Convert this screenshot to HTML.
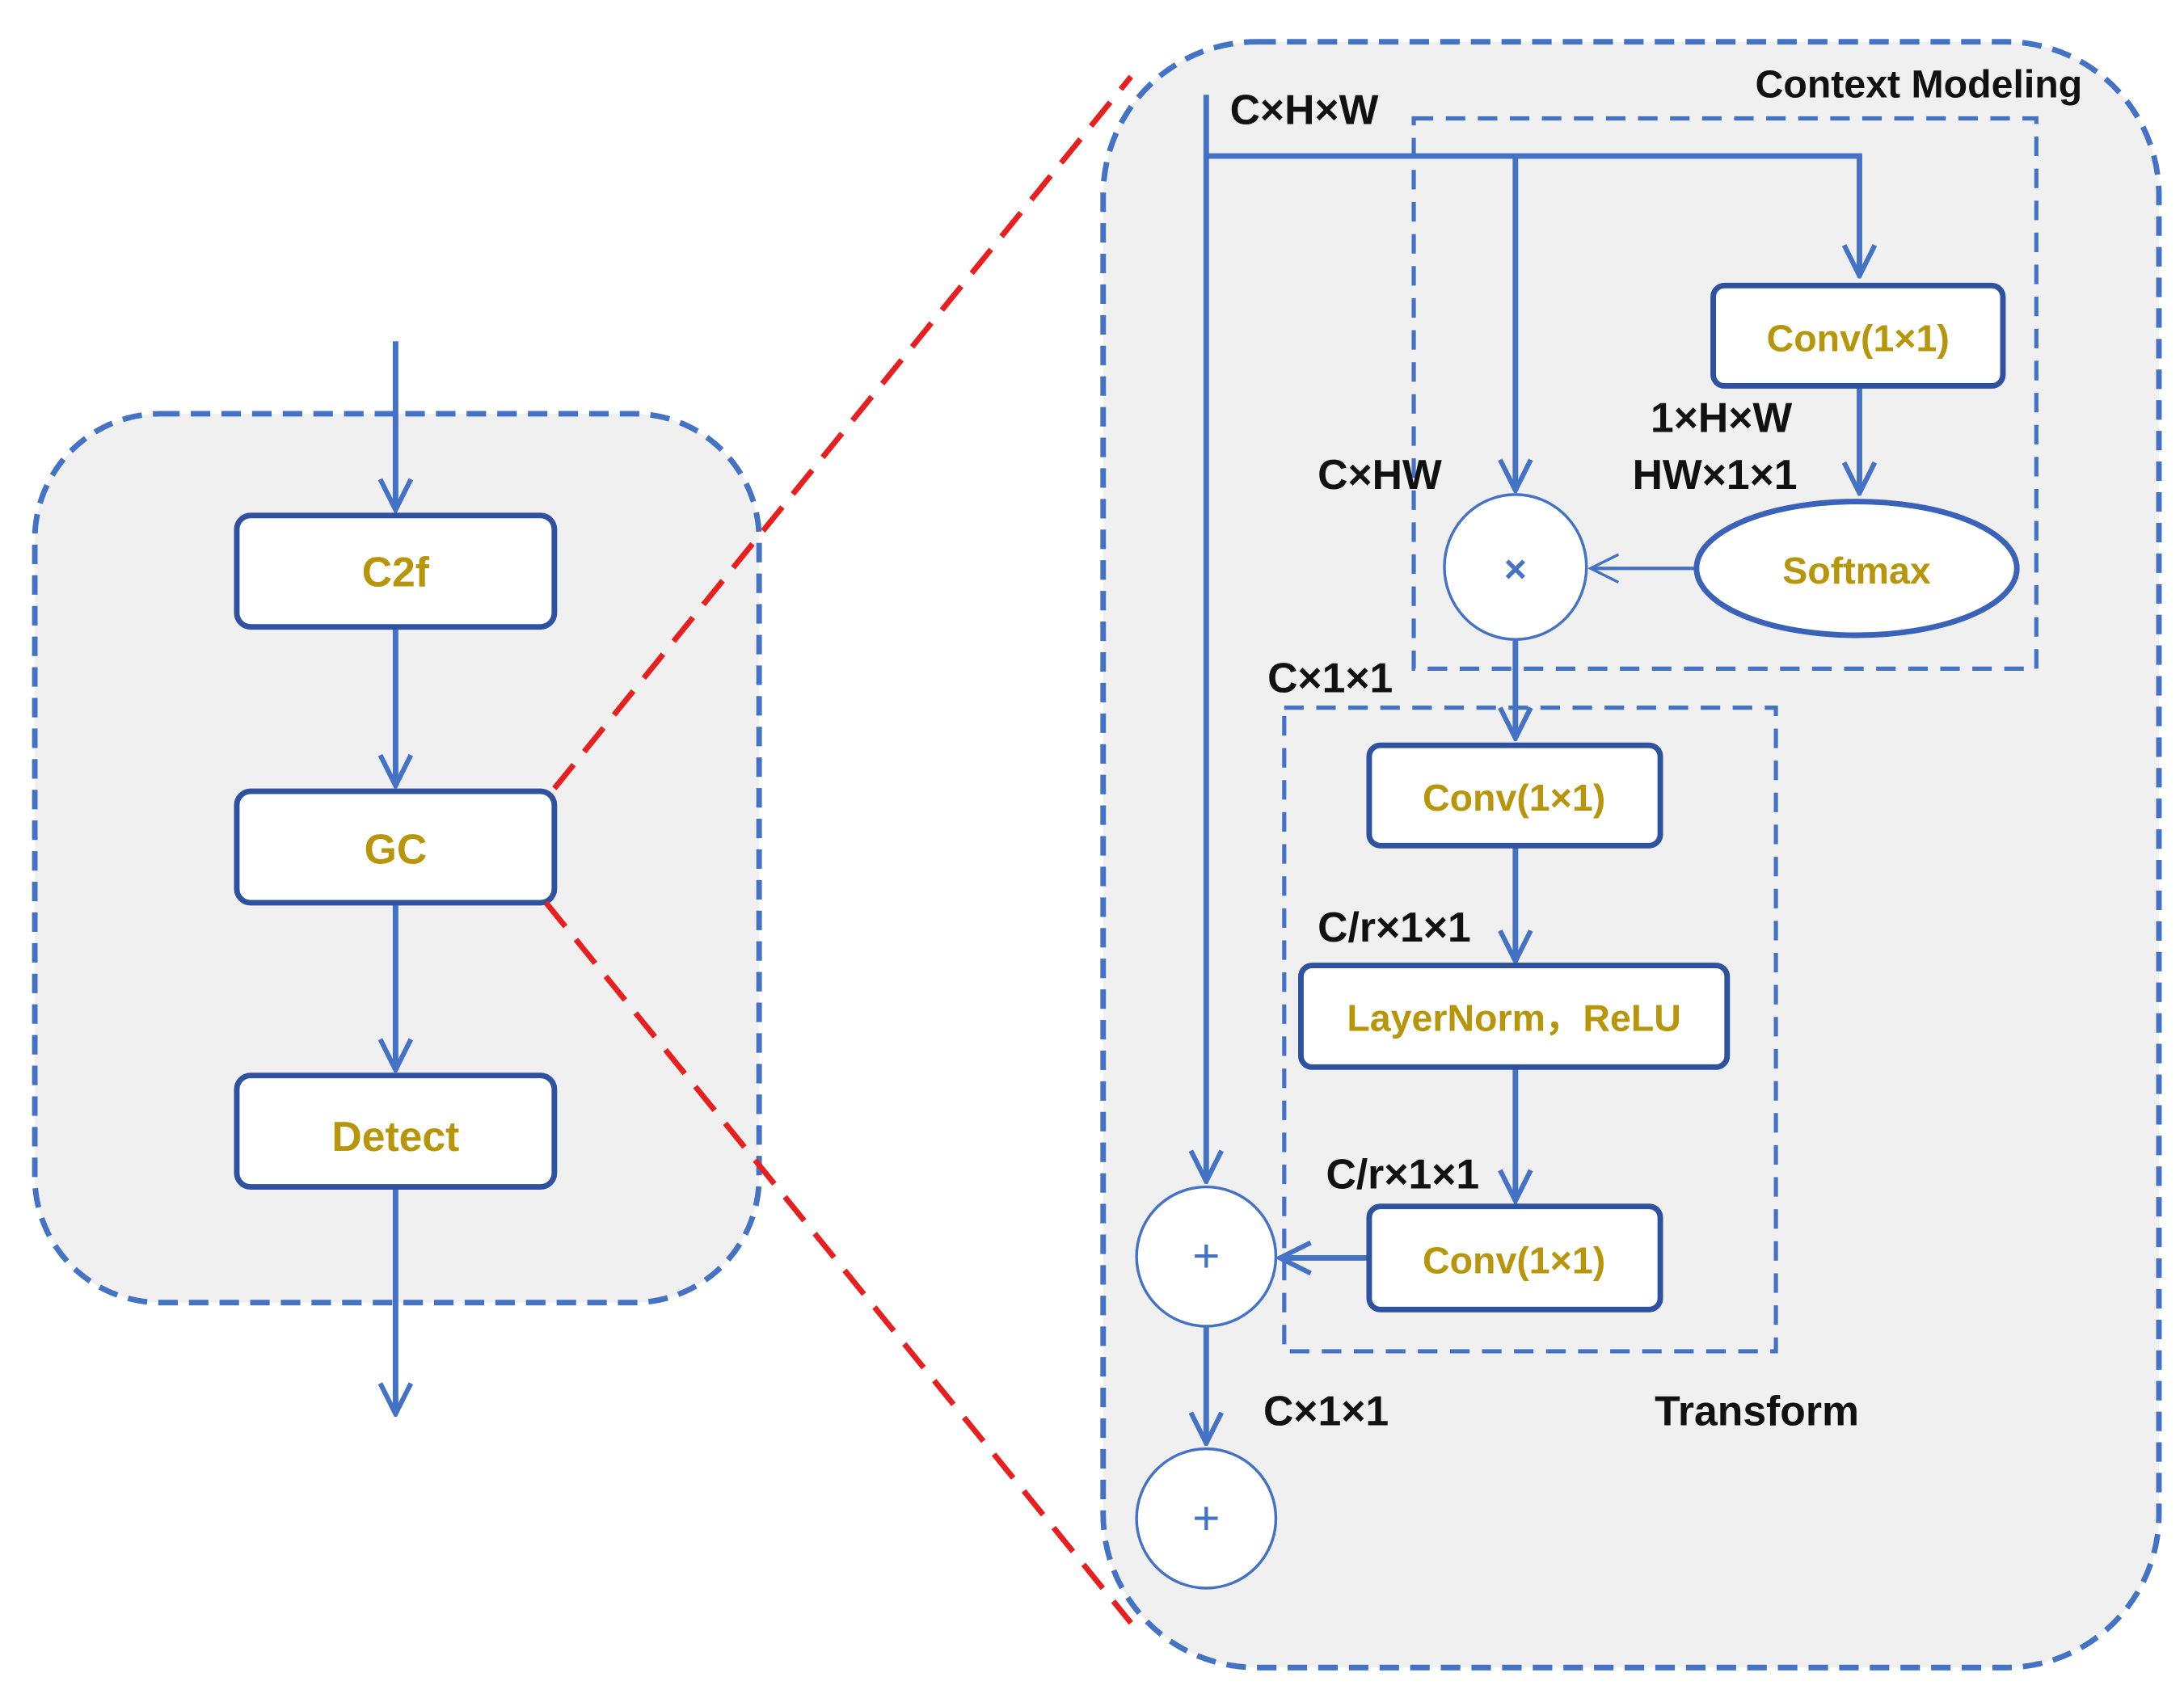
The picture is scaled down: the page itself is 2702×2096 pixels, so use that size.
<!DOCTYPE html>
<html><head><meta charset="utf-8"><style>html,body{margin:0;padding:0;background:#fff}svg{display:block}</style></head>
<body>
<svg width="2702" height="2096" viewBox="0 0 1568 1216" preserveAspectRatio="none" xmlns="http://www.w3.org/2000/svg">
<defs>
<marker id="b" markerWidth="26" markerHeight="26" refX="24" refY="13" orient="auto" markerUnits="userSpaceOnUse">
<path d="M2,2 L24,13 L2,24" fill="none" stroke="#4472c4" stroke-width="3.5"/></marker>
<marker id="c" markerWidth="24" markerHeight="24" refX="22" refY="12" orient="auto" markerUnits="userSpaceOnUse">
<path d="M2,2 L22,12 L2,22" fill="none" stroke="#4472c4" stroke-width="2"/></marker>
</defs>
<g font-family="Liberation Sans, sans-serif" font-weight="bold">
<rect x="25" y="297" width="520" height="638" rx="90" fill="#f0f0f0" stroke="#4472c4" stroke-width="4" stroke-dasharray="14 8"/>
<g stroke="#4472c4" stroke-width="4" fill="none">
<line x1="284" y1="245" x2="284" y2="366" marker-end="url(#b)"/>
<line x1="284" y1="450" x2="284" y2="564" marker-end="url(#b)"/>
<line x1="284" y1="648" x2="284" y2="768" marker-end="url(#b)"/>
<line x1="284" y1="852" x2="284" y2="1015" marker-end="url(#b)"/>
</g>
<g fill="#fff" stroke="#2f52a0" stroke-width="4">
<rect x="170" y="370" width="228" height="80" rx="10"/>
<rect x="170" y="568" width="228" height="80" rx="10"/>
<rect x="170" y="772" width="228" height="80" rx="10"/>
</g>
<g fill="#b8960c" font-size="30" text-anchor="middle">
<text x="284" y="421">C2f</text><text x="284" y="620">GC</text><text x="284" y="826">Detect</text>
</g>
<rect x="792" y="30" width="758" height="1167" rx="110" fill="#f0f0f0" stroke="#4472c4" stroke-width="4" stroke-dasharray="14 8"/>
<g stroke="#e81f1f" stroke-width="4" stroke-dasharray="22 12">
<line x1="398" y1="566" x2="812" y2="55"/>
<line x1="392" y1="648" x2="812" y2="1165"/>
</g>
<g fill="none" stroke="#4472c4" stroke-width="3" stroke-dasharray="14 9">
<rect x="1015" y="85" width="447" height="395"/>
<rect x="922" y="508" width="353" height="462"/>
</g>
<g stroke="#4472c4" stroke-width="4" fill="none">
<line x1="866" y1="68" x2="866" y2="848" marker-end="url(#b)"/>
<polyline points="866,112 1335,112 1335,198" marker-end="url(#b)"/>
<line x1="1088" y1="112" x2="1088" y2="352" marker-end="url(#b)"/>
<line x1="1335" y1="277" x2="1335" y2="354" marker-end="url(#b)"/>
<line x1="1088" y1="459" x2="1088" y2="530" marker-end="url(#b)"/>
<line x1="1088" y1="607" x2="1088" y2="690" marker-end="url(#b)"/>
<line x1="1088" y1="766" x2="1088" y2="862" marker-end="url(#b)"/>
<line x1="983" y1="903" x2="919" y2="903" marker-end="url(#b)"/>
<line x1="866" y1="952" x2="866" y2="1036" marker-end="url(#b)"/>
</g>
<line x1="1218" y1="408" x2="1142" y2="408" stroke="#4472c4" stroke-width="2.5" marker-end="url(#c)"/>
<g fill="#fff" stroke="#2f52a0" stroke-width="4">
<rect x="1230" y="205" width="208" height="72" rx="8"/>
<rect x="983" y="535" width="209" height="72" rx="8"/>
<rect x="934" y="693" width="306" height="73" rx="8"/>
<rect x="983" y="866" width="209" height="74" rx="8"/>
<ellipse cx="1333" cy="408" rx="115" ry="48" stroke="#3a62b8"/>
</g>
<g fill="#fff" stroke="#4472c4" stroke-width="2">
<ellipse cx="1088" cy="407" rx="51" ry="52"/>
<circle cx="866" cy="902" r="50"/>
<circle cx="866" cy="1090" r="50"/>
</g>
<g fill="#4472c4" font-weight="normal" text-anchor="middle">
<text x="1088" y="418" font-size="28" font-weight="bold">×</text>
<text x="866" y="913" font-size="34">+</text>
<text x="866" y="1101" font-size="34">+</text>
</g>
<g fill="#b8960c" font-size="27" text-anchor="middle">
<text x="1334" y="252">Conv(1×1)</text>
<text x="1333" y="419">Softmax</text>
<text x="1087" y="582">Conv(1×1)</text>
<text x="1087" y="740">LayerNorm，ReLU</text>
<text x="1087" y="914">Conv(1×1)</text>
</g>
<g fill="#111" font-size="30">
<text x="1495" y="70" text-anchor="end" font-size="28">Context Modeling</text>
<text x="883" y="89">C×H×W</text>
<text x="1185" y="310">1×H×W</text>
<text x="1172" y="351">HW×1×1</text>
<text x="946" y="351">C×HW</text>
<text x="910" y="497">C×1×1</text>
<text x="946" y="676">C/r×1×1</text>
<text x="952" y="853">C/r×1×1</text>
<text x="907" y="1023">C×1×1</text>
<text x="1188" y="1023">Transform</text>
</g>
</g>
</svg>
</body></html>
